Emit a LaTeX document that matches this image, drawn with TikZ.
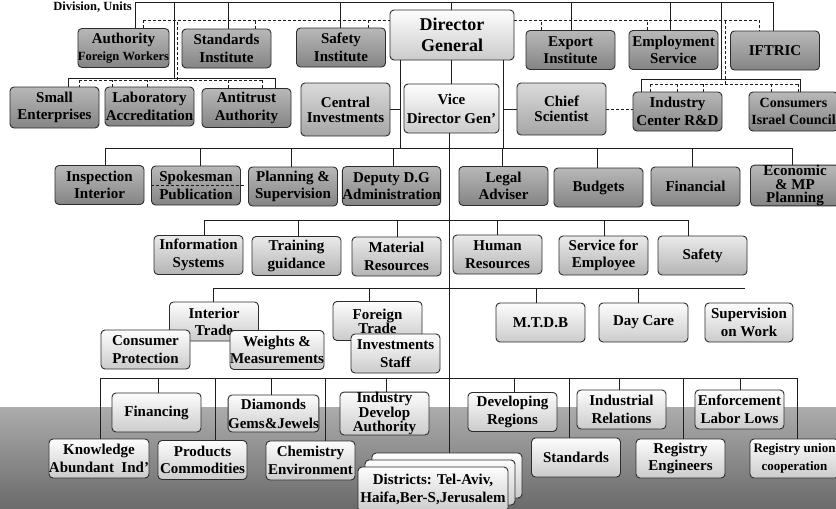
\documentclass[tikz,border=0pt]{standalone}
\usepackage{fontspec}
\setmainfont{Liberation Serif}
\definecolor{bordc}{RGB}{45,45,45}
\definecolor{linec}{RGB}{30,30,30}
\definecolor{dkT}{RGB}{184,184,184}
\definecolor{dkB}{RGB}{132,132,132}
\definecolor{mdT}{RGB}{218,218,218}
\definecolor{mdB}{RGB}{166,166,166}
\definecolor{rfT}{RGB}{234,234,234}
\definecolor{rfB}{RGB}{180,180,180}
\definecolor{ltT}{RGB}{253,253,253}
\definecolor{ltB}{RGB}{203,203,203}
\definecolor{bgT}{RGB}{172,172,172}
\definecolor{bgB}{RGB}{106,106,106}
\newcommand\dropto[3]{\path ([xshift=#2pt]#1.north) coordinate (tmp); \draw[conn] (tmp) -- (tmp |- #3);}
\newcommand\dtick[3]{\path ([xshift=#2pt]#1.north) coordinate (tmp); \draw[dsh] (tmp) -- (tmp |- #3);}
\begin{document}
\begin{tikzpicture}[x=1pt,y=-1pt,
  base/.style={draw=bordc, line width=0.9pt, rounded corners=4pt, align=center, inner sep=0pt,
    font=\bfseries\fontsize{15}{17.5}\selectfont, minimum width=89pt, minimum height=39pt, text=black},
  dk/.style={base, top color=dkT, bottom color=dkB},
  md/.style={base, top color=mdT, bottom color=mdB},
  rf/.style={base, top color=rfT, bottom color=rfB},
  lt/.style={base, top color=ltT, bottom color=ltB},
  tight/.style={font=\bfseries\fontsize{15}{13.5}\selectfont},
  conn/.style={draw=linec, line width=1pt},
  dsh/.style={draw=linec, line width=0.8pt, dash pattern=on 3pt off 2pt},
]
\useasboundingbox (0,0) rectangle (836,509);
\clip (0,0) rectangle (836,509);
\fill[white] (0,0) rectangle (836,509);
\path[top color=bgT, bottom color=bgB] (0,407) rectangle (836,509);

% ---------- nodes ----------
\node[anchor=east, inner sep=0pt, font=\bfseries\fontsize{12.5}{14}\selectfont] (divlbl) at (132,7.5) {Division, Units};

\node[dk] (auth) at (123.5,48) {Authority\\[-1pt]\fontsize{12.5}{14}\selectfont Foreign Workers};
\node[dk] (stdinst) at (226.5,48.5) {Standards\\Institute};
\node[dk] (safety) at (341,47.5) {Safety\\Institute};
\node[lt, minimum width=124pt, minimum height=50pt, font=\bfseries\fontsize{18}{21.5}\selectfont] (dg) at (452,35) {Director\\General};
\node[dk] (export) at (570.5,50) {Export\\Institute};
\node[dk] (employ) at (673.5,50) {Employment\\Service};
\node[dk] (iftric) at (775,50.5) {IFTRIC};

\node[dk, minimum height=41pt] (small) at (54.5,107.5) {Small\\Enterprises};
\node[dk] (lab) at (149.5,106.5) {Laboratory\\Accreditation};
\node[dk] (antitrust) at (246.5,108) {Antitrust\\Authority};
\node[md, minimum height=53pt, font=\bfseries\fontsize{15}{15}\selectfont] (central) at (345.5,109.5) {Central\\Investments};
\node[lt, minimum width=95pt, minimum height=49pt, font=\bfseries\fontsize{15}{19}\selectfont] (vice) at (451.5,108.5) {Vice\\Director Gen'};
\node[md, minimum height=52pt, font=\bfseries\fontsize{15}{14.5}\selectfont] (chief) at (561.5,109) {Chief\\Scientist};
\node[dk] (icrd) at (677.5,111.5) {Industry\\Center R\&D};
\node[dk, font=\bfseries\fontsize{14}{17.5}\selectfont] (consumers) at (793.5,111.5) {Consumers\\Israel Council};

\node[dk] (inspection) at (99.5,185) {Inspection\\Interior};
\node[dk] (spokes) at (196,185.5) {Spokesman\\Publication};
\node[dk] (planning) at (293,186.5) {Planning \&\\Supervision};
\node[dk, minimum width=97pt] (deputy) at (391.5,186) {Deputy D.G\\Administration};
\node[dk] (legal) at (503.5,186) {Legal\\Adviser};
\node[dk] (budgets) at (598.5,187.5) {Budgets};
\node[dk] (financial) at (695.5,186.5) {Financial};
\node[dk, tight] (economic) at (795,185.5) {Economic\\\& MP\\Planning};

\node[rf] (info) at (198.5,255) {Information\\Systems};
\node[rf] (training) at (296.5,256) {Training\\guidance};
\node[rf] (material) at (396.5,256.5) {Material\\Resources};
\node[rf] (human) at (497.5,254.5) {Human\\Resources};
\node[rf] (service) at (603.5,255.5) {Service for\\Employee};
\node[rf] (safety2) at (702.5,255.5) {Safety};

\node[lt, font=\bfseries\fontsize{15}{17}\selectfont] (interior) at (214,321.5) {Interior\\Trade};
\node[lt] (consumer) at (145.5,349.5) {Consumer\\Protection};
\node[lt, minimum width=94pt] (weights) at (277,350) {Weights \&\\Measurements};
\node[lt, font=\bfseries\fontsize{15}{14}\selectfont] (foreign) at (377.5,321) {Foreign\\Trade};
\node[lt] (invest) at (395.5,353.5) {Investments\\Staff};
\node[lt] (mtdb) at (540.5,322.5) {M.T.D.B};
\node[lt] (daycare) at (643.5,322.5) {Day Care};
\node[lt, minimum width=88pt] (superv) at (749,322.5) {Supervision\\on Work};

\node[lt] (financing) at (156.5,412.5) {Financing};
\node[lt, minimum height=37pt, font=\bfseries\fontsize{15}{19}\selectfont] (diamonds) at (273.5,413.5) {Diamonds\\Gems\&Jewels};
\node[lt, font=\bfseries\fontsize{15}{12.5}\selectfont] (indev) at (384.5,413.5) {Industry\\Develop\\Authority};
\node[lt] (developing) at (512.5,412) {Developing\\Regions};
\node[lt] (industrial) at (621.5,409.5) {Industrial\\Relations};
\node[lt] (enforcement) at (739.5,409.5) {Enforcement\\Labor Lows};

\node[lt, minimum width=90pt] (knowledge) at (99,458.5) {Knowledge\\Abundant\ \ Ind'};
\node[lt] (products) at (202.5,460) {Products\\Commodities};
\node[lt] (chemistry) at (310.5,460.5) {Chemistry\\Environment};
\node[lt] (standards2) at (576,457.5) {Standards};
\node[lt] (regeng) at (680.5,458.5) {Registry\\Engineers};
\node[lt, font=\bfseries\fontsize{13}{17.5}\selectfont] (regunion) at (794.5,458.5) {Registry union\\cooperation};

\node[lt, minimum width=150pt, minimum height=45pt] (dback) at (447,475.5) {};
\node[lt, minimum width=150pt, minimum height=45pt] (dmid) at (440,482.5) {};
\node[lt, minimum width=150pt, minimum height=45pt] (dfront) at (433,489.5) {Districts: Tel-Aviv,\\Haifa,Ber-S,Jerusalem};

% ---------- top connectors ----------
\coordinate (t0) at (135,2); \coordinate (t1) at (773,2);
\draw[conn] (t0) -- (t1);
\draw[conn] (t0) -- (t0 |- auth.north);
\dropto{stdinst}{1.5}{t0}
\dropto{safety}{-1}{t0}
\dropto{dg}{-1}{t0}
\dropto{export}{0.5}{t0}
\dropto{employ}{-3.5}{t0}
\draw[conn] (t1) -- (t1 |- iftric.north);

\coordinate (sj) at (174,78); \draw[conn] (sj) -- (sj |- t0);
\coordinate (sw) at (68,78); \coordinate (se) at (275,78);
\draw[conn] (sw) -- (se);
\draw[conn] (sw) -- (sw |- small.north);
\draw[conn] (se) -- (se |- antitrust.north);

\coordinate (ij) at (721,79); \draw[conn] (ij) -- (ij |- t0);
\coordinate (iw) at (641,79); \coordinate (ie) at (800,79);
\draw[conn] (iw) -- (ie);
\draw[conn] (iw) -- (iw |- icrd.north);
\draw[conn] (ie) -- (ie |- consumers.north);

% dashed
\coordinate (dl) at (143,20); \coordinate (dr) at (759,20);
\draw[dsh] (dl) -- (dl -| dg.west);
\draw[dsh] (dg.east |- dr) -- (dr);
\draw[dsh] (dl) -- (dl |- auth.north);
\dtick{stdinst}{28.5}{dl}
\dtick{safety}{27}{dl}
\dtick{export}{-29.5}{dl}
\dtick{employ}{-26.5}{dl}
\draw[dsh] (dr) -- (dr |- iftric.north);

\coordinate (dsj) at (177,80); \draw[dsh] (dsj) -- (dsj |- dl);
\coordinate (dsw) at (79,80); \coordinate (dse) at (262,80);
\draw[dsh] (dsw) -- (dse);
\draw[dsh] (dsw) -- (dsw |- small.north);
\dtick{lab}{-37.5}{dsw}
\dtick{lab}{-2.5}{dsw}
\dtick{antitrust}{-18.5}{dsw}
\draw[dsh] (dse) -- (dse |- antitrust.north);

\coordinate (drj) at (725,84); \draw[dsh] (drj) -- (drj |- dr);
\coordinate (diw) at (650,84); \coordinate (die) at (798,84);
\draw[dsh] (diw) -- (die);
\draw[dsh] (diw) -- (diw |- icrd.north);
\dtick{icrd}{-0.5}{diw}
\dtick{icrd}{25.5}{diw}
\dtick{consumers}{-22.5}{diw}
\draw[dsh] (die) -- (die |- consumers.north);

% ---------- DG area ----------
\coordinate (b3w) at (105,148); \coordinate (b3e) at (792,148);
\draw[conn] (b3w) -- (b3e);
\path ([xshift=-52pt]dg.south) coordinate (dgl); \draw[conn] (dgl) -- (dgl |- b3w);
\path ([xshift=51pt]dg.south) coordinate (dgr); \draw[conn] (dgr) -- (dgr |- b3w);
\draw[conn] (central.east) -- (central.east -| dgl);
\draw[conn] (chief.west) -- (chief.west -| dgr);
\draw[conn] (vice.north) -- (vice.north |- dg.south);
\draw[dsh] (chief.east) -- (chief.east -| icrd.west);
\draw[dsh] (spokes.west) -- ([xshift=3pt]spokes.east);

\dropto{inspection}{5.5}{b3w}
\dropto{spokes}{4}{b3w}
\dropto{planning}{-2}{b3w}
\dropto{deputy}{1.5}{b3w}
\dropto{legal}{-1.5}{b3w}
\dropto{budgets}{-1.5}{b3w}
\dropto{financial}{-3.5}{b3w}
\dropto{economic}{-3}{b3w}

% trunk
\path ([xshift=-2.5pt]vice.south) coordinate (tr);
\draw[conn] (tr) -- (tr |- dback.north);

% row 4
\coordinate (b4w) at (204,220); \coordinate (b4e) at (688,220);
\draw[conn] (b4w) -- (b4e);
\dropto{info}{5.5}{b4w}
\dropto{training}{1.5}{b4w}
\dropto{material}{0.5}{b4w}
\dropto{human}{-0.5}{b4w}
\dropto{service}{0.5}{b4w}
\dropto{safety2}{-14.5}{b4w}

% row 5
\coordinate (b5w) at (213,288); \coordinate (b5e) at (745,288);
\draw[conn] (b5w) -- (b5e);
\dropto{interior}{-1}{b5w}
\dropto{foreign}{-8.5}{b5w}
\dropto{mtdb}{-4.5}{b5w}
\dropto{daycare}{-5.5}{b5w}

% row 6
\coordinate (b6w) at (100,378); \coordinate (b6e) at (797,378);
\draw[conn] (b6w) -- (b6e);
\dropto{financing}{1.5}{b6w}
\dropto{diamonds}{-2.5}{b6w}
\dropto{indev}{1.5}{b6w}
\dropto{developing}{1.5}{b6w}
\dropto{industrial}{-2.5}{b6w}
\dropto{enforcement}{0.5}{b6w}
\dropto{knowledge}{1}{b6w}
\dropto{products}{12.5}{b6w}
\dropto{chemistry}{14.5}{b6w}
\dropto{standards2}{-7}{b6w}
\dropto{regeng}{2.5}{b6w}
\dropto{regunion}{2.5}{b6w}
\end{tikzpicture}
\end{document}
